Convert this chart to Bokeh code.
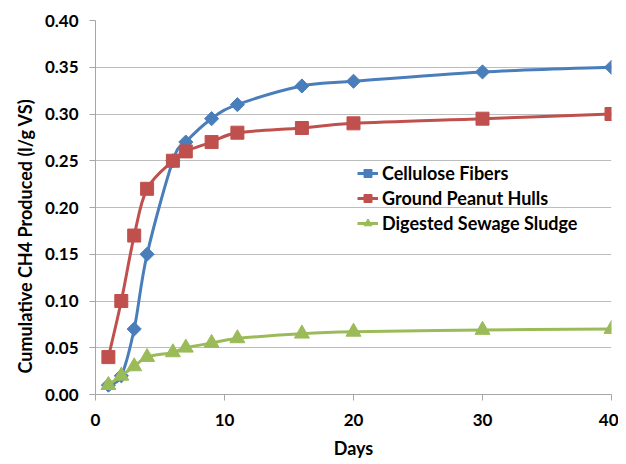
import math
from bokeh.plotting import figure
from bokeh.models import Range1d, Legend, LegendItem, FixedTicker, Title
from bokeh.embed import file_html
from bokeh.resources import INLINE
import numpy as np

days = [1, 2, 3, 4, 6, 7, 9, 11, 16, 20, 30, 40]
cellulose = [0.01, 0.02, 0.07, 0.15, 0.25, 0.27, 0.295, 0.31, 0.33, 0.335, 0.345, 0.35]
peanut = [0.04, 0.10, 0.17, 0.22, 0.25, 0.26, 0.27, 0.28, 0.285, 0.29, 0.295, 0.30]
sludge = [0.01, 0.02, 0.03, 0.04, 0.045, 0.05, 0.055, 0.06, 0.065, 0.067, 0.069, 0.07]
names = ["Cellulose Fibers", "Ground Peanut Hulls", "Digested Sewage Sludge"]
colors = ["#4A7EBB", "#C0504D", "#9BBB59"]
markers = ["square", "square", "triangle"]
angles = [math.pi / 4, 0, 0]
sizes = [10, 13, 15]
x_ticks = [0, 10, 20, 30, 40]
y_ticks = [0.0, 0.05, 0.10, 0.15, 0.20, 0.25, 0.30, 0.35, 0.40]
x_title = "Days"
y_title = "Cumulative CH4 Produced (l/g VS)"

FONT = "Lato"

p = figure(width=618, height=464, output_backend="svg", toolbar_location=None,
           x_range=Range1d(0, 40), y_range=Range1d(0, 0.4),
           min_border_left=95, min_border_right=7, min_border_top=20, min_border_bottom=70)
p.outline_line_color = None
p.xgrid.grid_line_color = None
p.ygrid.grid_line_color = "#BDBDBD"
p.ygrid.grid_line_width = 1

p.xaxis.ticker = FixedTicker(ticks=x_ticks)
p.yaxis.ticker = FixedTicker(ticks=y_ticks)
p.yaxis.major_label_overrides = {t: f"{t:.2f}" for t in y_ticks}
for ax in (p.xaxis[0], p.yaxis[0]):
    ax.axis_line_color = "#A6A6A6"
    ax.major_tick_line_color = "#A6A6A6"
    ax.major_tick_out = 6
    ax.major_tick_in = 0
    ax.minor_tick_line_color = None
    ax.major_label_text_font = FONT
    ax.major_label_text_font_style = "bold"
    ax.major_label_text_font_size = "17px"
    ax.major_label_text_color = "black"
p.xaxis.major_label_standoff = 13
p.yaxis.major_label_standoff = 11

p.add_layout(Title(text=y_title, align="left", offset=21, standoff=12,
                   text_font=FONT, text_font_style="bold", text_font_size="18px",
                   text_color="black"), "left")
p.add_layout(Title(text=x_title, align="center", standoff=12,
                   text_font=FONT, text_font_style="bold", text_font_size="18px",
                   text_color="black"), "below")


def smooth(xs, ys):
    x = np.array(xs, float)
    y = np.array(ys, float)
    n = len(x)
    xp = np.concatenate([[x[0]], x, [x[-1]]])
    yp = np.concatenate([[y[0]], y, [y[-1]]])
    x0 = x[:-1]; y0 = y[:-1]; x1 = x[1:]; y1 = y[1:]
    cx0 = x0 + (xp[2:n + 1] - xp[0:n - 1]) / 6.0
    cy0 = y0 + (yp[2:n + 1] - yp[0:n - 1]) / 6.0
    cx1 = x1 - (xp[3:n + 2] - xp[1:n]) / 6.0
    cy1 = y1 - (yp[3:n + 2] - yp[1:n]) / 6.0
    return dict(x0=x0, y0=y0, x1=x1, y1=y1, cx0=cx0, cy0=cy0, cx1=cx1, cy1=cy1)


items = []
for ys, name, c, m, a, s in zip([cellulose, peanut, sludge], names, colors, markers, angles, sizes):
    d = smooth(days, ys)
    p.bezier(x0=d["x0"], y0=d["y0"], x1=d["x1"], y1=d["y1"],
             cx0=d["cx0"], cy0=d["cy0"], cx1=d["cx1"], cy1=d["cy1"],
             line_color=c, line_width=3)
    lr = p.line([days[0]], [ys[0]], line_color=c, line_width=3)
    sr = p.scatter(days, ys, marker=m, angle=a, size=s, fill_color=c, line_color=c)
    items.append(LegendItem(label=name, renderers=[lr, sr]))

legend = Legend(items=items, location=(262, 160), background_fill_alpha=0,
                border_line_color=None, padding=0, margin=0, spacing=3,
                label_height=20, glyph_height=20, glyph_width=21, label_standoff=4,
                label_text_font=FONT, label_text_font_style="bold",
                label_text_font_size="18px", label_text_color="black")
p.add_layout(legend)

open("out.html", "w").write(file_html(p, INLINE))
